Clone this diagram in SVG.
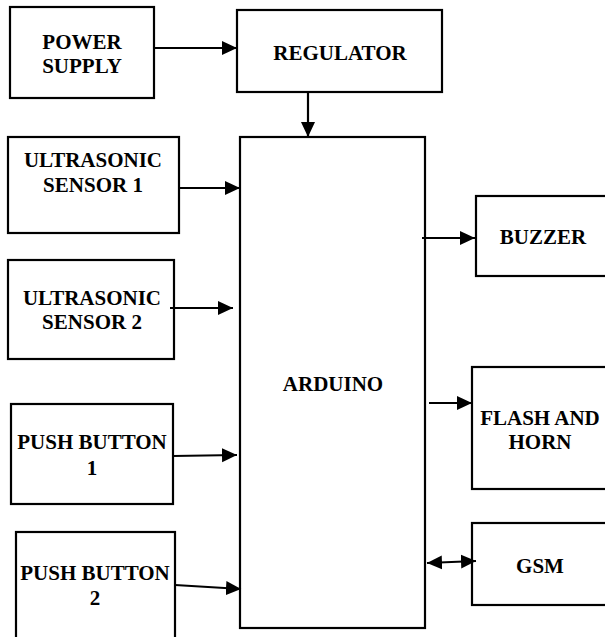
<svg xmlns="http://www.w3.org/2000/svg" width="605" height="637" viewBox="0 0 605 637">
<style>
.box{fill:#fff;stroke:#000;stroke-width:2.2}
.lbl{font-family:"Liberation Serif","Times New Roman",serif;font-weight:bold;font-size:21px;fill:#000;text-anchor:middle}
.con{stroke:#000;stroke-width:2.2;fill:none}
</style>
<defs>
<marker id="ah" markerUnits="userSpaceOnUse" markerWidth="16" markerHeight="16" refX="15" refY="7" viewBox="0 0 16 14" orient="auto-start-reverse">
<path d="M0,0 L15,7 L0,14 z" fill="#000"/>
</marker>
</defs>
<rect width="605" height="637" fill="#fff"/>
<g id="power"><rect class="box" x="10" y="7" width="144" height="91"/><text class="lbl" x="82" y="49">POWER</text><text class="lbl" x="82" y="73">SUPPLY</text></g>
<g id="regulator"><rect class="box" x="237" y="10" width="205" height="82"/><text class="lbl" x="340" y="60">REGULATOR</text></g>
<g id="us1"><rect class="box" x="8" y="137" width="171" height="96"/><text class="lbl" x="93" y="167">ULTRASONIC</text><text class="lbl" x="93" y="192">SENSOR 1</text></g>
<g id="us2"><rect class="box" x="8" y="260" width="166" height="99"/><text class="lbl" x="92" y="305">ULTRASONIC</text><text class="lbl" x="92" y="329">SENSOR 2</text></g>
<g id="pb1"><rect class="box" x="11" y="404" width="162" height="100"/><text class="lbl" x="92" y="449">PUSH BUTTON</text><text class="lbl" x="92" y="475">1</text></g>
<g id="pb2"><rect class="box" x="16" y="532" width="159" height="120"/><text class="lbl" x="95" y="580">PUSH BUTTON</text><text class="lbl" x="95" y="605">2</text></g>
<g id="arduino"><rect class="box" x="240" y="137" width="185" height="491"/><text class="lbl" x="333" y="391">ARDUINO</text></g>
<g id="buzzer"><rect class="box" x="476" y="196" width="140" height="80"/><text class="lbl" x="543" y="244">BUZZER</text></g>
<g id="flash"><rect class="box" x="472" y="367" width="140" height="122"/><text class="lbl" x="540" y="425">FLASH AND</text><text class="lbl" x="540" y="449">HORN</text></g>
<g id="gsm"><rect class="box" x="472" y="523" width="140" height="82"/><text class="lbl" x="540" y="573">GSM</text></g>
<g id="connectors">
<line class="con" x1="154" y1="48" x2="237" y2="48" marker-end="url(#ah)"/>
<line class="con" x1="308" y1="92" x2="308" y2="137" marker-end="url(#ah)"/>
<line class="con" x1="179" y1="188" x2="240" y2="188" marker-end="url(#ah)"/>
<line class="con" x1="170" y1="308" x2="233" y2="308" marker-end="url(#ah)"/>
<line class="con" x1="173" y1="456" x2="237" y2="455" marker-end="url(#ah)"/>
<line class="con" x1="175" y1="585" x2="241" y2="589" marker-end="url(#ah)"/>
<line class="con" x1="422" y1="238" x2="475" y2="238" marker-end="url(#ah)"/>
<line class="con" x1="429" y1="403" x2="472" y2="403" marker-end="url(#ah)"/>
<line class="con" x1="427" y1="563" x2="476" y2="561" marker-start="url(#ah)" marker-end="url(#ah)"/>
</g>
</svg>
